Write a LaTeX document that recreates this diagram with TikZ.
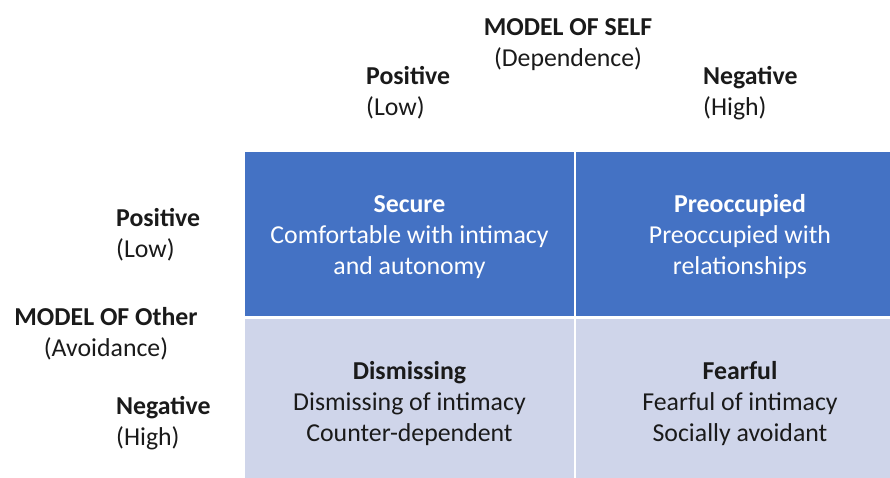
\documentclass[tikz,border=0pt]{standalone}
\usepackage{fontspec}
\setmainfont{Carlito}
\definecolor{cellblue}{HTML}{4472C4}
\definecolor{celllight}{HTML}{CFD5EA}
\definecolor{txt}{HTML}{1A1A1A}
\begin{document}
\begin{tikzpicture}[x=1pt,y=-1pt,
  lbl/.style={inner sep=0pt, text=txt, font=\fontsize{25.8}{31}\selectfont},
  celltext/.style={inner sep=0pt, align=center, font=\fontsize{25.8}{31}\selectfont},
  cell/.style={inner sep=0pt, outer sep=0pt, anchor=north west},
  topcell/.style={cell, fill=cellblue},
  botcell/.style={cell, fill=celllight}]
\useasboundingbox (0,0) rectangle (890,477);
\node[topcell, minimum width=329pt, minimum height=164pt] (sec) at (245,152) {};
\node[topcell, minimum width=328pt, minimum height=164pt] (pre) at (576,152) {};
\node[botcell, minimum width=329pt, minimum height=168pt] (dis) at (245,319) {};
\node[botcell, minimum width=328pt, minimum height=168pt] (fea) at (576,319) {};
\node[celltext, text=white] (sect) at ([yshift=-3pt]sec.center)
  {\textbf{Secure}\\Comfortable with intimacy\\and autonomy};
\node[celltext, text=white] (pret) at ([yshift=-3pt]pre.center)
  {\textbf{Preoccupied}\\Preoccupied with\\relationships};
\node[celltext, text=txt] (dist) at ([yshift=-1pt]dis.center)
  {\textbf{Dismissing}\\Dismissing of intimacy\\Counter-dependent};
\node[celltext, text=txt] (feat) at ([yshift=-1pt]fea.center)
  {\textbf{Fearful}\\Fearful of intimacy\\Socially avoidant};
\node[lbl, align=center] (self) at (568,45) {\textbf{MODEL OF SELF}\\(Dependence)};
\node[lbl, align=left, anchor=west] (spos) at (366,93) {\textbf{Positive}\\(Low)};
\node[lbl, align=left, anchor=west] (sneg) at (703,93) {\textbf{Negative}\\(High)};
\node[lbl, align=left, anchor=west] (opos) at (116,235) {\textbf{Positive}\\(Low)};
\node[lbl, align=center] (other) at (106,334) {\textbf{MODEL OF Other}\\(Avoidance)};
\node[lbl, align=left, anchor=west] (oneg) at (116,423.5) {\textbf{Negative}\\(High)};
\end{tikzpicture}
\end{document}
